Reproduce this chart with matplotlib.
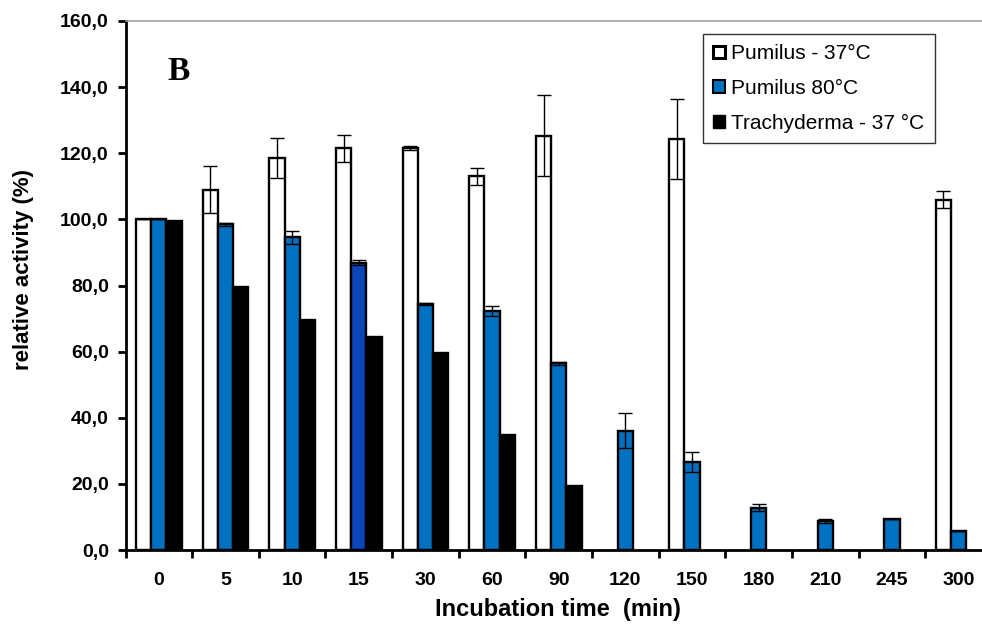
import numpy as np
import matplotlib.pyplot as plt
from matplotlib.patches import Patch

# --- data ---
times = ["0", "5", "10", "15", "30", "60", "90", "120", "150", "180", "210", "245", "300"]
nan = np.nan
pum37 = [100.0, 109.0, 118.5, 121.5, 121.5, 113.0, 125.3, nan, 124.3, nan, nan, nan, 106.0]
pum37_err = [0.0, 7.0, 6.0, 4.0, 0.6, 2.6, 12.2, nan, 12.0, nan, nan, nan, 2.7]
pum80 = [100.0, 98.5, 94.6, 86.9, 74.3, 72.3, 56.5, 36.1, 26.7, 12.8, 8.8, 9.3, 5.7]
pum80_err = [0.0, 0.5, 2.0, 0.8, 0.3, 1.5, 0.4, 5.3, 3.0, 1.1, 0.5, 0.0, 0.0]
trachy = [99.5, 79.5, 69.6, 64.5, 59.7, 34.8, 19.4, nan, nan, nan, nan, nan, nan]

blue = "#0070c0"
blue_dark = "#0a46b8"
bar_w = 0.228
edge = 1.7

fig = plt.figure(figsize=(9.82, 6.35), dpi=100)
# axes runs a bit past the right border (last group sits on the edge)
ax = fig.add_axes([125.5 / 982, 85 / 635, 866.5 / 982, 529 / 635])

x = np.arange(len(times))
ekw = dict(ecolor="black", elinewidth=1.0, capsize=5, capthick=1.0)

ax.bar(x - bar_w, pum37, bar_w, color="white", edgecolor="black", linewidth=edge,
       yerr=pum37_err, error_kw=ekw, zorder=3)
c80 = [blue] * len(times)
c80[3] = blue_dark
ax.bar(x, pum80, bar_w, color=c80, edgecolor="black", linewidth=edge,
       yerr=pum80_err, error_kw=ekw, zorder=3)
ax.bar(x + bar_w, trachy, bar_w, color="black", edgecolor="black", linewidth=edge, zorder=3)

ax.set_xlim(-0.5, len(times) - 0.5)
ax.set_ylim(0, 160)
ax.set_yticks(np.arange(0, 161, 20))
ax.set_yticklabels(["%d,0" % v for v in range(0, 161, 20)])
ax.set_xticks(x)
ax.set_xticklabels(times)
ax.set_xticks(np.arange(-0.5, len(times) - 0.4, 1), minor=True)

fs_tick = 14
for lab in ax.get_yticklabels() + ax.get_xticklabels():
    lab.set_fontfamily("Liberation Sans")
    lab.set_fontweight("bold")
    lab.set_fontsize(fs_tick)

ax.tick_params(axis="x", which="major", length=0, pad=16)
ax.tick_params(axis="x", which="minor", length=6, width=2, direction="out")
ax.tick_params(axis="y", length=6, width=2, direction="out", pad=6)

ax.spines["left"].set_linewidth(2)
ax.spines["bottom"].set_linewidth(2)
ax.spines["top"].set_color("#a0a0a0")
ax.spines["top"].set_linewidth(1.2)
ax.spines["right"].set_visible(False)

ax.set_ylabel("relative activity (%)", fontfamily="Liberation Sans", fontweight="bold",
              fontsize=16)
ax.yaxis.set_label_coords((34 - 125.5) / 866.5, 0.53)
ax.set_xlabel("Incubation time  (min)", fontfamily="Liberation Sans", fontweight="bold",
              fontsize=17)
ax.xaxis.set_label_coords((558 - 125.5) / 866.5, -48 / 529)

ax.text((179 - 125.5) / 866.5, (550 - 71) / 529, "B", transform=ax.transAxes,
        fontfamily="Liberation Serif", fontweight="bold", fontsize=24,
        va="center", ha="center")

handles = [Patch(facecolor="white", edgecolor="black", linewidth=2.2),
           Patch(facecolor=blue, edgecolor="black", linewidth=1.5),
           Patch(facecolor="black", edgecolor="black", linewidth=1.0)]
labels = ["Pumilus - 37°C", "Pumilus 80°C", "Trachyderma - 37 °C"]
leg = fig.legend(handles, labels, loc="upper left", bbox_to_anchor=(703 / 982, 1 - 34 / 635),
                 prop={"family": "Liberation Sans", "size": 15}, frameon=True, fancybox=False,
                 handlelength=0.55, handleheight=0.55, handletextpad=0.3, labelspacing=0.75,
                 borderpad=0.5, borderaxespad=0)
leg.get_frame().set_edgecolor("black")
leg.get_frame().set_linewidth(1.0)

fig.savefig("out.png", dpi=100)
